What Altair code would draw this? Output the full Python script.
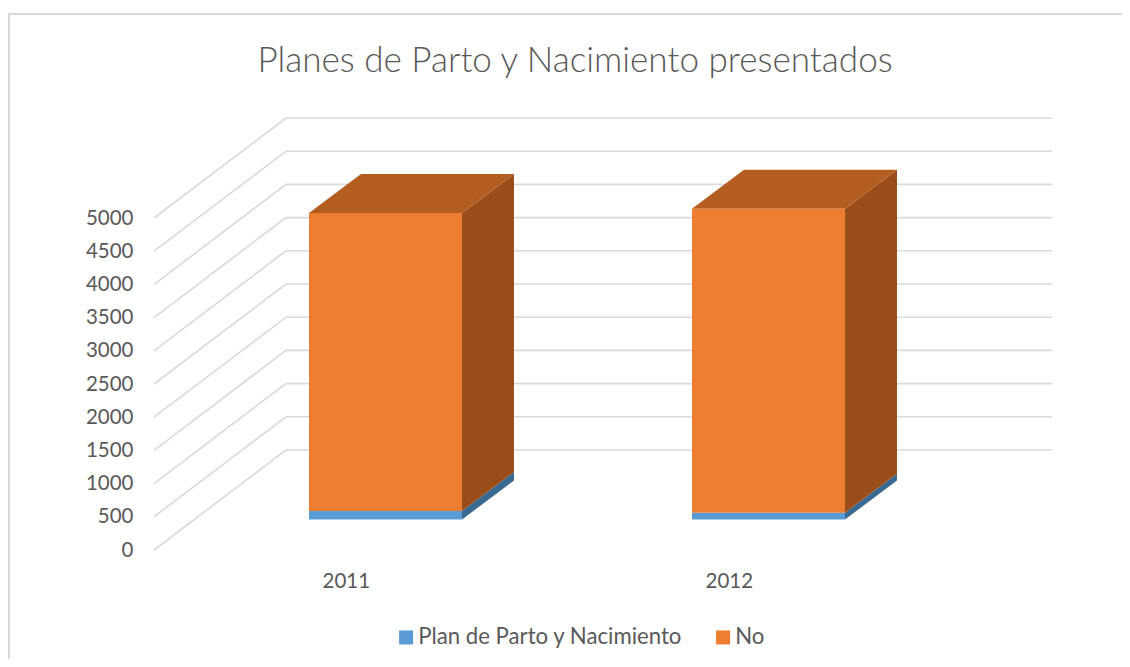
import altair as alt
import pandas as pd

TITLE = "Planes de Parto y Nacimiento presentados"
YEARS = ["2011", "2012"]
SERIES = ["Plan de Parto y Nacimiento", "No"]
PLAN = [128, 102]
NO = [4488, 4579]
TICKS = [0, 500, 1000, 1500, 2000, 2500, 3000, 3500, 4000, 4500, 5000]

COLORS = ["#5B9BD5", "#ED7D31"]
TOP_COLORS = ["#41719C", "#B35E20"]
SIDE_COLORS = ["#3A6A92", "#9A4F1A"]
TEXT = "#595959"
GRID = "#D9D9D9"
FONT = "Lato"

W, H = 1114, 651
PX = 332 / 5000            # pixels per unit of value
LEFT = 146                 # pixels from the svg edge to the front-left floor corner
ZERO = 542                 # svg pixel row of value 0 at the front of the floor
WALL_DX, WALL_DY = 132, 100 / PX
FLOOR_W = 766
SLOT = FLOOR_W / 2
BAR_W = 153
BAR_FRONT_DX, BAR_FRONT_DY = 40, 30.5 / PX
BAR_DX, BAR_DY = 52, 39 / PX

xs = alt.Scale(domain=[-LEFT, W - LEFT], range=[0, W], nice=False, zero=False)
ys = alt.Scale(domain=[(ZERO - H) / PX, ZERO / PX], range=[H, 0], nice=False, zero=False)
y_axis = alt.Axis(values=TICKS, title=None, grid=False, ticks=False, domain=False,
                  offset=-125, labelPadding=0, labelFont=FONT, labelFontSize=20.5,
                  labelColor=TEXT, format="d")


def X(field):
    return alt.X(field, type="quantitative", scale=xs, axis=None, title=None)


def Y(field):
    return alt.Y(field, type="quantitative", scale=ys, axis=y_axis)


grid_rows = []
for t in TICKS:
    grid_rows += [
        {"tick": t, "k": 0, "x": 0, "y": t},
        {"tick": t, "k": 1, "x": WALL_DX, "y": t + WALL_DY},
        {"tick": t, "k": 2, "x": WALL_DX + FLOOR_W, "y": t + WALL_DY},
    ]
grid_df = pd.DataFrame(grid_rows)

front, side, top = [], [], []
for i, year in enumerate(YEARS):
    x0 = BAR_FRONT_DX + SLOT * (i + 0.5) - BAR_W / 2
    x1 = x0 + BAR_W
    base = BAR_FRONT_DY
    stops = [base, base + PLAN[i], base + PLAN[i] + NO[i]]
    for s, name in enumerate(SERIES):
        lo, hi = stops[s], stops[s + 1]
        front.append({"year": year, "serie": name, "x0": x0, "x1": x1, "lo": lo, "hi": hi})
        for d in (0, 1):
            side.append({"key": f"{year}-{s}", "s": name, "x": x1 + d * BAR_DX,
                         "lo": lo + d * BAR_DY, "hi": hi + d * BAR_DY})
    for d in (0, 1):
        top.append({"key": year, "x0": x0 + d * BAR_DX, "x1": x1 + d * BAR_DX,
                    "y": stops[-1] + d * BAR_DY})
front_df = pd.DataFrame(front)
side_df = pd.DataFrame(side)
top_df = pd.DataFrame(top)
cat_df = pd.DataFrame({"year": YEARS, "x": [SLOT * (i + 0.5) + 0.8 for i in range(len(YEARS))]})

gridlines = (
    alt.Chart(grid_df)
    .mark_line(color=GRID, strokeWidth=1.6)
    .encode(x=X("x"), y=Y("y"), detail="tick:N", order="k:Q")
)

sides = (
    alt.Chart(side_df)
    .mark_area(orient="vertical", line=False)
    .encode(
        x=X("x"),
        y=Y("lo"),
        y2="hi",
        detail="key:N",
        fill=alt.Fill("s:N", scale=alt.Scale(domain=SERIES, range=SIDE_COLORS), legend=None),
    )
)

tops = (
    alt.Chart(top_df)
    .mark_area(orient="horizontal", color=TOP_COLORS[1])
    .encode(x=X("x0"), x2="x1", y=Y("y"), detail="key:N")
)

fronts = (
    alt.Chart(front_df)
    .mark_rect()
    .encode(
        x=X("x0"),
        x2="x1",
        y=Y("lo"),
        y2="hi",
        color=alt.Color(
            "serie:N",
            scale=alt.Scale(domain=SERIES, range=COLORS),
            sort=SERIES,
            legend=alt.Legend(
                title=None, orient="none", legendX=387, legendY=618, direction="horizontal",
                symbolType="square", symbolSize=196, symbolStrokeWidth=0, labelFont=FONT,
                labelFontSize=22.2, labelColor=TEXT, labelOffset=1, columnPadding=29,
                labelLimit=400,
            ),
        ),
    )
)

cats = (
    alt.Chart(cat_df)
    .mark_text(font=FONT, fontSize=20.5, color=TEXT, baseline="alphabetic", align="center")
    .encode(x=X("x"), y=alt.value(580), text="year:N")
)

frame_v = alt.Chart(pd.DataFrame({"a": [0]})).mark_rule(color=GRID, strokeWidth=2).encode(
    x=alt.value(1), y=alt.value(6), y2=alt.value(H))
frame_h = alt.Chart(pd.DataFrame({"a": [0]})).mark_rule(color=GRID, strokeWidth=2).encode(
    y=alt.value(6), x=alt.value(0), x2=alt.value(W))

chart = (
    alt.layer(frame_v, frame_h, gridlines, sides, tops, fronts, cats)
    .resolve_scale(fill="independent", color="independent")
    .properties(
        width=W,
        height=H,
        padding=0,
        autosize=alt.AutoSizeParams(type="none"),
        title=alt.TitleParams(
            TITLE, font=FONT, fontSize=35.1, fontWeight=300, color=TEXT, anchor="middle",
            frame="group", baseline="alphabetic", offset=0, dy=99, dx=10,
        ),
    )
    .configure_view(stroke=None)
)

chart.save("out.html", embed_options={"renderer": "svg", "actions": False})
